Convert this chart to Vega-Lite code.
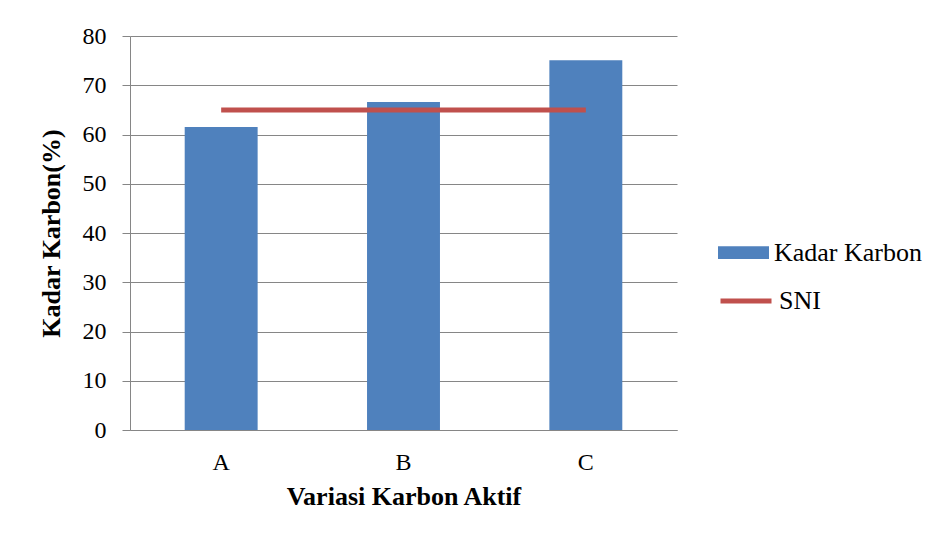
{
  "$schema": "https://vega.github.io/schema/vega-lite/v6.json",
  "autosize": {"type": "none"},
  "padding": {"left": 130, "top": 36, "right": 264, "bottom": 113},
  "width": 547,
  "height": 394,
  "background": "white",
  "config": {
    "font": "Liberation Serif",
    "view": {"stroke": null},
    "axis": {"labelFont": "Liberation Serif", "titleFont": "Liberation Serif", "labelColor": "black", "titleColor": "black"},
    "legend": {"labelFont": "Liberation Serif", "titleFont": "Liberation Serif", "labelColor": "black", "labelFontSize": 26}
  },
  "data": {
    "values": [
      {"variasi": "A", "kadar": 61.5, "sni": 65},
      {"variasi": "B", "kadar": 66.6, "sni": 65},
      {"variasi": "C", "kadar": 75.1, "sni": 65}
    ]
  },
  "encoding": {
    "x": {
      "field": "variasi",
      "type": "nominal",
      "scale": {"paddingInner": 0.6, "paddingOuter": 0.3},
      "axis": {
        "title": "Variasi Karbon Aktif",
        "labelAngle": 0,
        "labelFontSize": 24,
        "labelPadding": 20,
        "ticks": false,
        "domain": true,
        "domainColor": "#868686",
        "titleFontSize": 26,
        "titleFontWeight": "bold",
        "titlePadding": 9
      }
    }
  },
  "layer": [
    {
      "mark": {"type": "bar", "color": "#4F81BD"},
      "encoding": {
        "y": {
          "field": "kadar",
          "type": "quantitative",
          "scale": {"domain": [0, 80]},
          "axis": {
            "title": "Kadar Karbon(%)",
            "values": [0, 10, 20, 30, 40, 50, 60, 70, 80],
            "labelFontSize": 24,
            "labelPadding": 16,
            "tickSize": 8,
            "tickColor": "#868686",
            "domainColor": "#868686",
            "grid": true,
            "gridColor": "#868686",
            "gridWidth": 1,
            "titleFontSize": 26,
            "titleFontWeight": "bold",
            "titlePadding": 18
          }
        },
        "fill": {
          "datum": "Kadar Karbon",
          "scale": {"range": ["#4F81BD"]},
          "legend": {
            "title": null,
            "orient": "none",
            "legendX": 588,
            "legendY": 191,
            "padding": 0,
            "symbolType": "M-1,-0.25H1V0.25H-1Z",
            "symbolSize": 2601,
            "symbolStrokeWidth": 0,
            "labelFont": "Liberation Serif",
            "labelFontSize": 26,
            "labelColor": "black",
            "labelOffset": 5
          }
        }
      }
    },
    {
      "mark": {"type": "line", "strokeWidth": 5, "strokeCap": "butt"},
      "encoding": {
        "y": {"field": "sni", "type": "quantitative"},
        "stroke": {
          "datum": "SNI",
          "scale": {"range": ["#C0504D"]},
          "legend": {
            "title": null,
            "orient": "none",
            "legendX": 588,
            "legendY": 237,
            "padding": 0,
            "symbolType": "stroke",
            "symbolSize": 2601,
            "symbolStrokeWidth": 5,
            "labelFont": "Liberation Serif",
            "labelFontSize": 26,
            "labelColor": "black",
            "labelOffset": 5
          }
        }
      }
    }
  ]
}
